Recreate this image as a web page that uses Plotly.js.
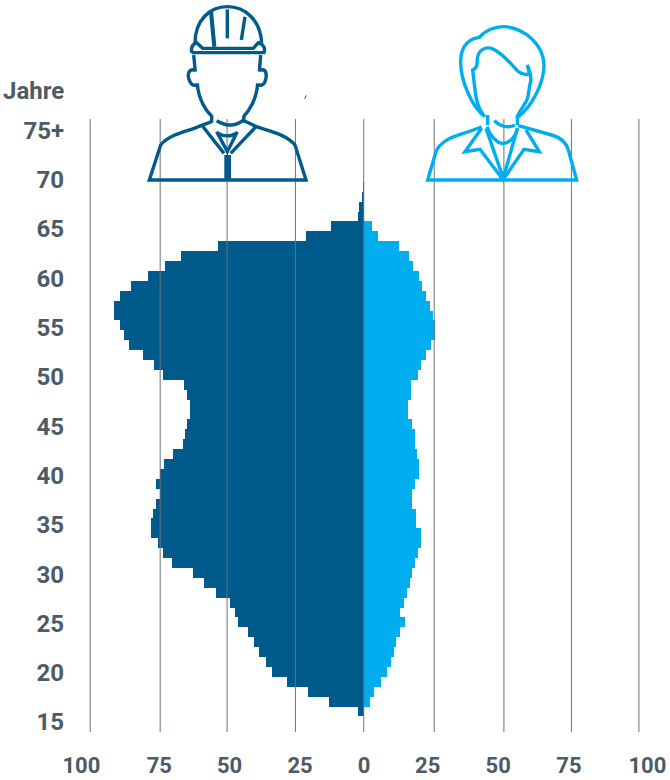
<!DOCTYPE html>
<html>
<head>
<meta charset="utf-8">
<script src="https://cdn.plot.ly/plotly-3.0.1.min.js"></script>
<style>html,body{margin:0;padding:0;background:#fff}#c{width:670px;height:780px}</style>
</head>
<body>
<div id="c"></div>
<script>
// Age in years, one bar per year
const ages = [16,17,18,19,20,21,22,23,24,25,26,27,28,29,30,31,32,33,34,35,36,37,38,39,40,41,42,43,44,45,46,47,48,49,50,51,52,53,54,55,56,57,58,59,60,61,62,63,64,65,66,67,68,69];
// Men (left side), thousands
const men = [2.3,12.8,20.4,27.9,33.4,35.9,38.2,40.1,42.4,45.9,47.2,48.8,53.9,58.2,62.2,69.9,73.3,75.1,77.7,77.7,76.8,75.9,74.5,75.9,74.5,73.0,69.5,65.9,65.2,64.4,63.4,63.4,64.5,65.6,73.3,76.7,80.7,85.5,87.4,89.1,91.1,91.1,89.1,84.9,78.7,72.4,66.8,53.2,21.2,12.2,2.3,1.8,0.7,0.4];
// Women (right side), thousands
const women = [0,2.3,3.75,6.3,8.4,9.7,10.8,11.7,13.3,14.8,13.3,14.5,15.5,16.7,17.6,18.5,19.6,20.6,20.6,18.9,18.9,17.6,17.6,18.6,20.2,20.2,19.4,18.6,18.6,17.6,16.2,16.2,17.2,17.2,19.7,20.8,22.5,24.3,25.8,25.8,25.2,24,22.6,21.3,20.1,17.9,16.5,12.6,5.2,2.8,0,0,0,0];
const xLabels = ['100','75','50','25','0','25','50','75','100'];
const xLabelPos = [-103,-74.6,-49,-23.3,0,23.2,48.9,74.7,103.3];
const gridPos = [-99.8,-74.3,-49.9,-25,-0.1,25.6,51,75.6,100.2];
const yTickPos = [14.94,19.92,24.9,29.88,34.86,39.84,44.82,49.8,54.78,59.76,64.74,69.72,74.7];
const yLabels = ['15','20','25','30','35','40','45','50','55','60','65','70','75+'];

const navy = '#005b8c', sky = '#00aeef', ink = '#4d5b66', gridCol = '#68737d';
const L = 70, T = 119, W = 600, H = 613;

// icon paths in reference-crop units (3 per pixel), converted to paper space
function toPaper(path, ox) {
  let i = 0;
  return path.replace(/-?\d+(\.\d+)?/g, m => {
    const v = parseFloat(m) / 3;
    const out = (i % 2 === 0) ? ((v + ox - L) / W) : ((T + H - v) / H);
    i++;
    return out.toFixed(5);
  });
}
function icon(paths, ox, col, w) {
  return paths.map(p => ({type:'path', xref:'paper', yref:'paper', path: toPaper(p, ox),
    line:{color:col, width:w}, fillcolor:'rgba(0,0,0,0)', layer:'above'}));
}
const manIcon = [
  'M 585 130 C 585 60 630 20 682 20 C 735 20 782 60 785 130',
  'M 575 158 L 792 158 C 797 145 790 132 775 128 L 760 145 L 608 145 L 590 128 C 580 132 572 140 575 158',
  'M 632 35 L 642 140','M 634 35 L 644 140','M 682 28 L 682 115','M 735 50 L 724 120',
  'M 581 165 L 586 215','M 782 165 L 778 215',
  'M 585 210 C 565 205 560 225 570 245 C 575 258 590 258 592 252',
  'M 780 210 C 800 205 802 225 795 245 C 790 258 777 258 773 252',
  'M 592 250 C 595 300 620 335 635 348 L 635 368',
  'M 773 250 C 770 300 745 335 732 348 L 730 368',
  'M 650 362 C 680 380 705 380 728 362',
  'M 635 365 L 595 380 C 570 392 510 400 482 435 L 448 540 L 918 540 L 885 435 C 855 400 800 392 770 380 L 732 362',
  'M 605 375 L 672 460','M 770 378 L 692 460',
  'M 650 395 L 682 455 L 712 395','M 655 400 C 670 410 695 410 708 400',
  'M 678 465 L 678 540','M 683 465 L 683 540','M 688 465 L 688 540'
];
const womanIcon = [
  'M 255 350 C 215 320 180 240 182 180 C 184 135 210 115 238 112 C 255 92 285 78 315 80 C 370 85 430 130 432 195 C 432 250 395 320 355 350',
  'M 250 345 C 235 325 228 300 225 270 L 218 210 C 232 205 232 190 232 175 C 235 150 255 140 275 145 C 310 160 335 195 355 215 C 365 222 380 225 388 222 L 382 195 C 390 215 395 230 392 245 C 385 265 388 290 378 305 C 370 320 358 335 352 350',
  'M 263 345 L 263 375','M 352 345 L 352 375',
  'M 283 362 C 300 380 325 385 345 375',
  'M 262 380 C 270 410 295 432 310 430 C 330 430 350 405 352 385',
  'M 258 385 L 310 535 L 352 385',
  'M 245 385 L 195 455 L 240 448 L 308 538',
  'M 378 390 L 418 455 L 372 448 L 310 538',
  'M 245 380 C 220 392 170 405 150 415 C 130 425 110 440 105 465 L 83 540 L 530 540 L 505 450 C 498 425 480 412 455 405 L 355 377'
];
const speck = ['M 914 296 L 919 286'];
const gridShapes = gridPos.map(v => ({type:'line', xref:'x', yref:'paper', x0:v, x1:v, y0:0, y1:1,
  line:{color:gridCol, width:1}, layer:'above'}));

const font = {family:'Roboto, Arial, sans-serif', size:24, color:ink, weight:700};
const xFont = {family:'Roboto, Arial, sans-serif', size:22, color:ink, weight:700};

Plotly.newPlot('c', [
  {type:'bar', orientation:'h', name:'Männer', y:ages, x:men.map(v => -v), marker:{color:navy, line:{width:0}}},
  {type:'bar', orientation:'h', name:'Frauen', y:ages, x:women, marker:{color:sky, line:{width:0}}}
], {
  width:670, height:780, showlegend:false, barmode:'relative', bargap:0,
  paper_bgcolor:'#fff', plot_bgcolor:'#fff',
  margin:{l:L, r:0, t:T, b:48, pad:0},
  xaxis:{range:[(L-364)/2.7435,(670-364)/2.7435], tickmode:'array', tickvals:xLabelPos, ticktext:xLabels,
    showgrid:false, zeroline:false, showline:false, ticks:'', tickfont:xFont, ticklabelstandoff:18},
  yaxis:{range:[13.93,75.85], tickmode:'array', tickvals:yTickPos, ticktext:yLabels,
    showgrid:false, zeroline:false, showline:false, ticks:'', tickfont:font, ticklabelstandoff:5},
  shapes:[].concat(gridShapes, icon(manIcon,0,navy,3.4), icon(womanIcon,400,sky,3.4), icon(speck,0,navy,1)),
  annotations:[{text:'Jahre', xref:'paper', yref:'paper', x:(66-L)/W, y:(T+H-91)/H, xanchor:'right', yanchor:'middle', showarrow:false, font:font}]
}, {displayModeBar:false, staticPlot:true});
</script>
</body>
</html>
